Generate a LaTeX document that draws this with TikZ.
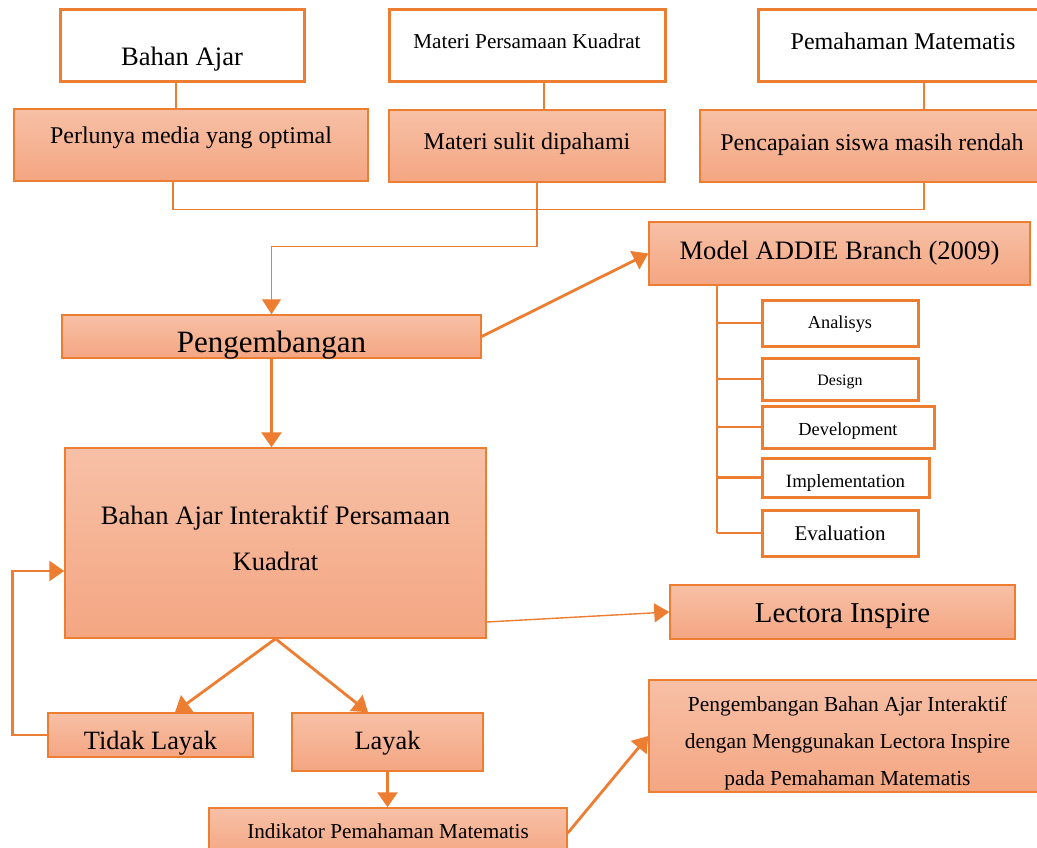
\documentclass[tikz,border=0pt]{standalone}
\usepackage{fontspec}
\setmainfont{Liberation Serif}
\usetikzlibrary{arrows.meta}

\definecolor{orng}{RGB}{237,125,49}
\definecolor{peachtop}{RGB}{247,192,166}
\definecolor{peachbot}{RGB}{244,166,130}

\newcommand{\fsz}[2]{\fontsize{#1}{#2}\selectfont}

\tikzset{
  plainbox/.style={draw=orng, line width=3pt, fill=white, inner sep=0pt},
  peachbox/.style={draw=orng, line width=1.5pt, top color=peachtop, bottom color=peachbot, inner sep=0pt},
  base/.style={text height=#1, text depth=0pt},
  link/.style={draw=orng, line width=1.4pt},
  branch/.style={draw=orng, line width=2.8pt},
  flow/.style={draw=orng, line width=2.8pt, -{Triangle[length=15pt,width=20pt]}},
  thinflow/.style={draw=orng, line width=1.4pt, -{Triangle[length=15pt,width=19pt]}}
}

\begin{document}
\begin{tikzpicture}[x=1pt, y=-1pt]
\clip (0,0) rectangle (1037,848);

% top row
\node[plainbox, minimum width=244pt, minimum height=72pt, base=40pt, font=\fsz{26.6}{32}] (bahan) at (182,46) {Bahan Ajar};
\node[plainbox, minimum width=276pt, minimum height=72pt, base=6pt, font=\fsz{21.2}{26}] (mpk) at (527,46) {Materi Persamaan Kuadrat};
\node[plainbox, minimum width=290pt, minimum height=72pt, base=8pt, font=\fsz{24}{29}] (pm) at (903,46) {Pemahaman Matematis};

% problems
\node[peachbox, minimum width=354pt, minimum height=72pt, text height=0pt, text depth=3pt, font=\fsz{24}{29}] (need1) at (191,145) {Perlunya media yang optimal};
\node[peachbox, minimum width=276pt, minimum height=72pt, base=8pt, font=\fsz{24}{29}] (need2) at (527,146) {Materi sulit dipahami};
\node[peachbox, minimum width=344pt, minimum height=72pt, base=10pt, font=\fsz{24}{29}] (need3) at (872,146) {Pencapaian siswa masih rendah};

% development
\node[peachbox, minimum width=419pt, minimum height=43pt, base=32pt, font=\fsz{31}{37}] (dev) at (271.5,336.5) {Pengembangan};
\node[peachbox, minimum width=381pt, minimum height=63pt, base=11pt, font=\fsz{26.6}{32}] (addie) at (839.5,253.5) {Model ADDIE Branch (2009)};

% ADDIE steps
\node[plainbox, minimum width=156pt, minimum height=46pt, base=11pt, font=\fsz{18.3}{22}] (an) at (840,323) {Analisys};
\node[plainbox, minimum width=156pt, minimum height=42pt, base=12pt, font=\fsz{15.9}{19}] (de) at (840,379) {Design};
\node[plainbox, minimum width=172pt, minimum height=42pt, base=16pt, font=\fsz{18.4}{22}] (dv) at (848,427) {Development};
\node[plainbox, minimum width=167pt, minimum height=39pt, base=19pt, font=\fsz{18.8}{22}] (im) at (845.5,477.5) {Implementation};
\node[plainbox, minimum width=156pt, minimum height=46pt, base=15pt, font=\fsz{21}{25}] (ev) at (840,533) {Evaluation};

% product
\node[peachbox, minimum width=421pt, minimum height=190pt, align=center, font=\fsz{26.6}{46}] (main) at (275.5,543) {Bahan Ajar Interaktif Persamaan\\Kuadrat\rule[-10pt]{0pt}{10pt}};
\node[peachbox, minimum width=345pt, minimum height=54pt, base=21pt, font=\fsz{28.8}{34}] (lect) at (842.5,612) {Lectora Inspire};

% validation
\node[peachbox, minimum width=205pt, minimum height=44pt, base=28pt, font=\fsz{26.4}{32}] (tidak) at (150.5,735) {Tidak Layak};
\node[peachbox, minimum width=191pt, minimum height=58pt, base=14pt, font=\fsz{26.4}{32}] (layak) at (387.5,742) {Layak};
\node[peachbox, minimum width=358pt, minimum height=50pt, base=10pt, font=\fsz{21.2}{26}] (ind) at (388,833) {Indikator Pemahaman Matematis};
\node[peachbox, minimum width=397pt, minimum height=112pt, align=center, font=\fsz{21.4}{37}] (fin) at (847.5,736) {\rule{0pt}{29pt}Pengembangan Bahan Ajar Interaktif\\dengan Menggunakan Lectora Inspire\\pada Pemahaman Matematis};

% connectors top
\draw[link] (bahan.south -| 176,0) -- (need1.north -| 176,0);
\draw[link] (mpk.south -| 544,0) -- (need2.north -| 544,0);
\draw[link] (pm.south -| 924,0) -- (need3.north -| 924,0);
\draw[link] (need1.south -| 173,0) -- ++(0,28) -| (need3.south -| 924,0);
\draw[thinflow] (need2.south -| 537,0) -- ++(0,64) -| (dev.north);

% arrows
\draw[flow] (dev.east) -- (addie.west);
\draw[flow] (dev.south) -- (dev.south |- main.north);
\draw[branch] (addie.south -| 717,0) -- (ev.west -| 717,0);
\foreach \st in {an,de,dv,im,ev}
  \draw[branch] (\st.west -| 717,0) -- (\st.west);
\draw[thinflow] (main.east |- 0,622) -- (lect.west);
\draw[flow] (main.south) -- (tidak.north -| 175,0);
\draw[flow] (main.south) -- (layak.north -| 368,0);
\draw[flow] (tidak.west) -- ++(-35,0) |- (main.west |- 0,571);
\draw[flow] (layak.south) -- (layak.south |- ind.north);
\draw[flow] (ind.east) -- (fin.west);

\end{tikzpicture}
\end{document}
